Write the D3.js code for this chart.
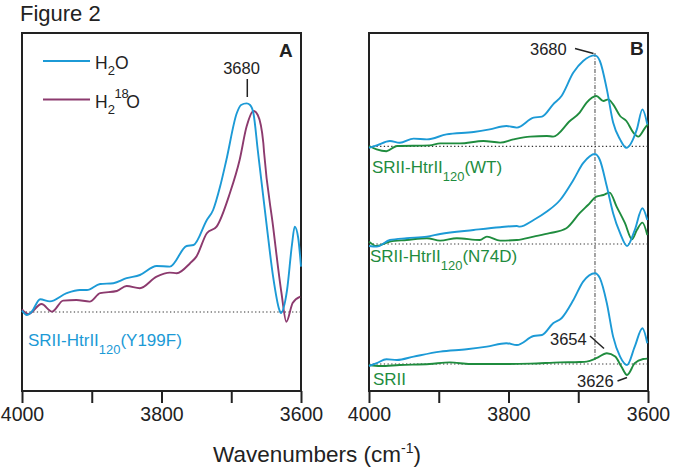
<!DOCTYPE html>
<html><head><meta charset="utf-8">
<script src="https://cdn.jsdelivr.net/npm/d3@7"></script>
<style>
body{margin:0;background:#fff}
svg{display:block}
text{font-family:"Liberation Sans",Arial,Helvetica,sans-serif}
</style>
</head><body>
<svg id="c" width="677" height="472"></svg>
<script>
// ---- data (wavenumber cm^-1, absorbance change, arbitrary units) ----
const xTicks = [4000, 3900, 3800, 3700, 3600];
const xTickLabels = ["4000", "", "3800", "", "3600"];

// Panel A: SRII-HtrII120 (Y199F)
const aH2O = [[4000,0.07],[3993,-0.15],[3986,0.02],[3974,0.64],[3960,0.53],[3936,0.94],[3917,1.1],[3907,1.1],[3888,1.4],[3869,1.44],[3850,1.69],[3831,1.85],[3807,2.3],[3788,2.27],[3764,3.3],[3754,3.35],[3735,4.6],[3726,5.1],[3716,6.27],[3707,7.6],[3692,9.95],[3686,10.35],[3678,10.43],[3673,10.35],[3668,9.9],[3662,8.1],[3649,4.27],[3640,1.77],[3631,0.1],[3629,-0.05],[3620,1.1],[3613,3.35],[3609,4.27],[3604,3.7],[3600,2.27]];
const aH218O = [[4000,0.13],[3991,-0.1],[3972,0.4],[3957,0.02],[3941,0.57],[3922,0.6],[3903,0.52],[3888,0.94],[3864,1.05],[3850,1.3],[3831,1.19],[3807,1.77],[3788,1.97],[3778,1.94],[3759,2.44],[3750,2.77],[3735,3.94],[3721,4.27],[3702,5.94],[3688,7.6],[3678,9.27],[3668,10.05],[3662,9.85],[3654,8.45],[3653,8.0],[3640,4.27],[3628,0.95],[3621,-0.49],[3612,0.45],[3601,0.77]];

// Panel B: WT, N74D, SRII (each relative to its own baseline)
const wtBlue = [[4000,-0.07],[3989,0.05],[3970,0.27],[3956,0.18],[3936,0.39],[3917,0.35],[3889,0.6],[3850,0.72],[3827,0.85],[3803,1.02],[3788,0.94],[3764,1.44],[3752,1.49],[3736,2.1],[3724,2.52],[3707,3.69],[3693,4.27],[3676,4.55],[3669,4.27],[3659,2.85],[3650,1.19],[3640,0.35],[3631,-0.07],[3616,0.85],[3608,1.85],[3601,1.1]];
const wtGreen = [[4000,0.02],[3989,-0.15],[3975,-0.24],[3960,0.02],[3913,0.05],[3898,0.15],[3870,0.15],[3836,0.27],[3812,0.19],[3793,0.35],[3769,0.49],[3745,0.52],[3736,0.49],[3712,1.27],[3698,1.69],[3688,2.19],[3674,2.52],[3664,2.27],[3657,2.35],[3650,2.1],[3640,1.52],[3631,1.27],[3621,0.69],[3614,0.49],[3604,0.94],[3600,1.1]];
const n74dBlue = [[4000,-0.1],[3989,-0.13],[3970,0.2],[3946,0.29],[3917,0.37],[3898,0.5],[3850,0.7],[3812,0.84],[3788,0.9],[3784,0.87],[3764,1.2],[3745,1.62],[3726,2.2],[3707,3.2],[3693,4.04],[3676,4.5],[3669,4.2],[3659,2.87],[3650,1.54],[3640,0.54],[3630,-0.1],[3619,0.7],[3608,1.79],[3601,1.2]];
const n74dGreen = [[4000,0.12],[3989,-0.1],[3970,0.12],[3946,0.2],[3917,0.29],[3898,0.17],[3874,0.29],[3841,0.2],[3831,0.37],[3812,0.17],[3788,0.2],[3764,0.37],[3741,0.54],[3717,0.79],[3698,1.54],[3686,1.95],[3674,2.37],[3664,2.45],[3655,2.57],[3645,1.87],[3633,1.04],[3623,0.24],[3616,0.7],[3608,1.07],[3601,0.45]];
const srBlue = [[4000,-0.1],[3989,0.04],[3975,0.24],[3960,0.2],[3936,0.37],[3898,0.62],[3860,0.74],[3831,0.87],[3803,1.04],[3788,0.95],[3764,1.4],[3752,1.45],[3736,2.04],[3724,2.29],[3707,3.2],[3693,4.12],[3676,4.54],[3669,4.29],[3659,3.04],[3650,1.37],[3640,0.37],[3630,-0.05],[3619,0.87],[3608,1.79],[3601,1.04]];
const srGreen = [[4000,-0.05],[3984,-0.1],[3956,-0.05],[3913,0],[3884,0.08],[3855,0],[3812,0],[3769,0.02],[3726,0.08],[3698,0.1],[3688,0.12],[3674,0.29],[3659,0.54],[3647,0.37],[3638,-0.14],[3630,-0.55],[3619,0.04],[3607,0.25],[3601,0.27]];

const offsetWT = 10.88, offsetN74D = 6.0, offsetSR = 0;
const peakLine = 3676;

// ---- drawing ----
const svg = d3.select("#c");
const C_BLUE = "#1c9ad6", C_PURPLE = "#8c3a6e", C_GREEN = "#1f8c3e", C_INK = "#222";
const frameTop = 33, frameBottom = 391;

const xA = d3.scaleLinear().domain([4000, 3600]).range([22, 301]);
const xB = d3.scaleLinear().domain([4000, 3600]).range([369, 648]);
const yA = d3.scaleLinear().domain([0, 10]).range([312, 112]);
const yB = d3.scaleLinear().domain([0, 10]).range([364, 164]);

svg.append("text").attr("x", 20).attr("y", 21).attr("font-size", 22).attr("fill", C_INK).text("Figure 2");

function frame(x) {
  svg.append("rect").attr("x", x.range()[0]).attr("y", frameTop)
    .attr("width", x.range()[1] - x.range()[0]).attr("height", frameBottom - frameTop)
    .attr("fill", "none").attr("stroke", C_INK).attr("stroke-width", 2);
  const ax = svg.append("g").attr("transform", `translate(0,${frameBottom})`)
    .call(d3.axisBottom(x).tickValues(xTicks).tickSize(12).tickPadding(4)
      .tickFormat((d, i) => xTickLabels[i]));
  ax.select(".domain").remove();
  ax.selectAll(".tick line").attr("stroke", C_INK).attr("stroke-width", 2);
  ax.selectAll(".tick text").attr("font-size", 19.5).attr("fill", C_INK)
    .attr("font-family", '"Liberation Sans",Arial,Helvetica,sans-serif');
}
frame(xA); frame(xB);

function baseline(x, y, off) {
  svg.append("line").attr("x1", x.range()[0]).attr("x2", x.range()[1])
    .attr("y1", y(off)).attr("y2", y(off))
    .attr("stroke", "#333").attr("stroke-width", 1.2).attr("stroke-dasharray", "1.3,2.4");
}
baseline(xA, yA, 0);
baseline(xB, yB, offsetWT); baseline(xB, yB, offsetN74D); baseline(xB, yB, offsetSR);

function curve(data, x, y, off, color) {
  const line = d3.line().x(d => x(d[0])).y(d => y(d[1] + off)).curve(d3.curveMonotoneX);
  svg.append("path").datum(data).attr("d", line).attr("fill", "none")
    .attr("stroke", color).attr("stroke-width", 1.9).attr("stroke-linejoin", "round");
}

// vertical 3680 line in B
svg.append("line").attr("x1", xB(peakLine)).attr("x2", xB(peakLine))
  .attr("y1", 53).attr("y2", 360).attr("stroke", "#333").attr("stroke-width", 0.9)
  .attr("stroke-dasharray", "4,1.5,1,1.5");

curve(aH218O, xA, yA, 0, C_PURPLE);
curve(aH2O, xA, yA, 0, C_BLUE);
curve(wtGreen, xB, yB, offsetWT, C_GREEN);
curve(wtBlue, xB, yB, offsetWT, C_BLUE);
curve(n74dGreen, xB, yB, offsetN74D, C_GREEN);
curve(n74dBlue, xB, yB, offsetN74D, C_BLUE);
curve(srGreen, xB, yB, offsetSR, C_GREEN);
curve(srBlue, xB, yB, offsetSR, C_BLUE);

// panel letters
svg.append("text").attr("x", 279).attr("y", 57).attr("font-size", 19).attr("font-weight", "bold").attr("fill", C_INK).text("A");
svg.append("text").attr("x", 630).attr("y", 55).attr("font-size", 19).attr("font-weight", "bold").attr("fill", C_INK).text("B");

// legend
svg.append("line").attr("x1", 43).attr("x2", 90).attr("y1", 61).attr("y2", 61).attr("stroke", C_BLUE).attr("stroke-width", 1.8);
svg.append("line").attr("x1", 43).attr("x2", 90).attr("y1", 99.5).attr("y2", 99.5).attr("stroke", C_PURPLE).attr("stroke-width", 1.8);
const l1 = svg.append("text").attr("x", 95).attr("y", 69).attr("font-size", 17.5).attr("fill", C_INK);
l1.append("tspan").text("H");
l1.append("tspan").attr("font-size", 13).attr("dy", 5.5).text("2");
l1.append("tspan").attr("dy", -5.5).text("O");
const l2 = svg.append("text").attr("x", 95).attr("y", 108).attr("font-size", 17.5).attr("fill", C_INK);
l2.append("tspan").text("H");
l2.append("tspan").attr("font-size", 13).attr("dy", 5.5).text("2");
l2.append("tspan").attr("font-size", 13).attr("dy", -16).attr("dx", -0.5).text("18");
l2.append("tspan").attr("dy", 10.5).attr("dx", -2.5).text("O");

// annotations
function label(x, y, txt, anchor) {
  svg.append("text").attr("x", x).attr("y", y).attr("font-size", 16.5).attr("fill", C_INK)
    .attr("text-anchor", anchor || "start").text(txt);
}
function seg(x1, y1, x2, y2) {
  svg.append("line").attr("x1", x1).attr("y1", y1).attr("x2", x2).attr("y2", y2)
    .attr("stroke", C_INK).attr("stroke-width", 1.5);
}
label(241.5, 73.5, "3680", "middle");
seg(xA(3677), 79, xA(3677), 97);
label(530, 55, "3680");
seg(575, 48.5, 593.5, 53.5);
label(550, 345, "3654");
seg(590, 336, 604, 348.5);
label(577, 387, "3626");
seg(617.5, 381, 627, 377.5);

function sampleLabel(x, y, color, pre, sub, post, fs) {
  const t = svg.append("text").attr("x", x).attr("y", y).attr("font-size", fs).attr("fill", color);
  t.append("tspan").text(pre);
  if (sub) {
    t.append("tspan").attr("font-size", fs * 0.76).attr("dy", 8).text(sub);
    t.append("tspan").attr("dy", -8).text(post);
  }
}
sampleLabel(28, 345.5, C_BLUE, "SRII-HtrII", "120", "(Y199F)", 17);
sampleLabel(372, 173, C_GREEN, "SRII-HtrII", "120", "(WT)", 17);
sampleLabel(370, 262, C_GREEN, "SRII-HtrII", "120", "(N74D)", 17);
sampleLabel(373, 385, C_GREEN, "SRII", null, null, 17);

// x axis title
const xt = svg.append("text").attr("x", 317).attr("y", 462).attr("font-size", 22.5)
  .attr("text-anchor", "middle").attr("fill", C_INK);
xt.append("tspan").text("Wavenumbers (cm");
xt.append("tspan").attr("font-size", 14).attr("dy", -9).text("-1");
xt.append("tspan").attr("dy", 9).text(")");
</script>
</body></html>
